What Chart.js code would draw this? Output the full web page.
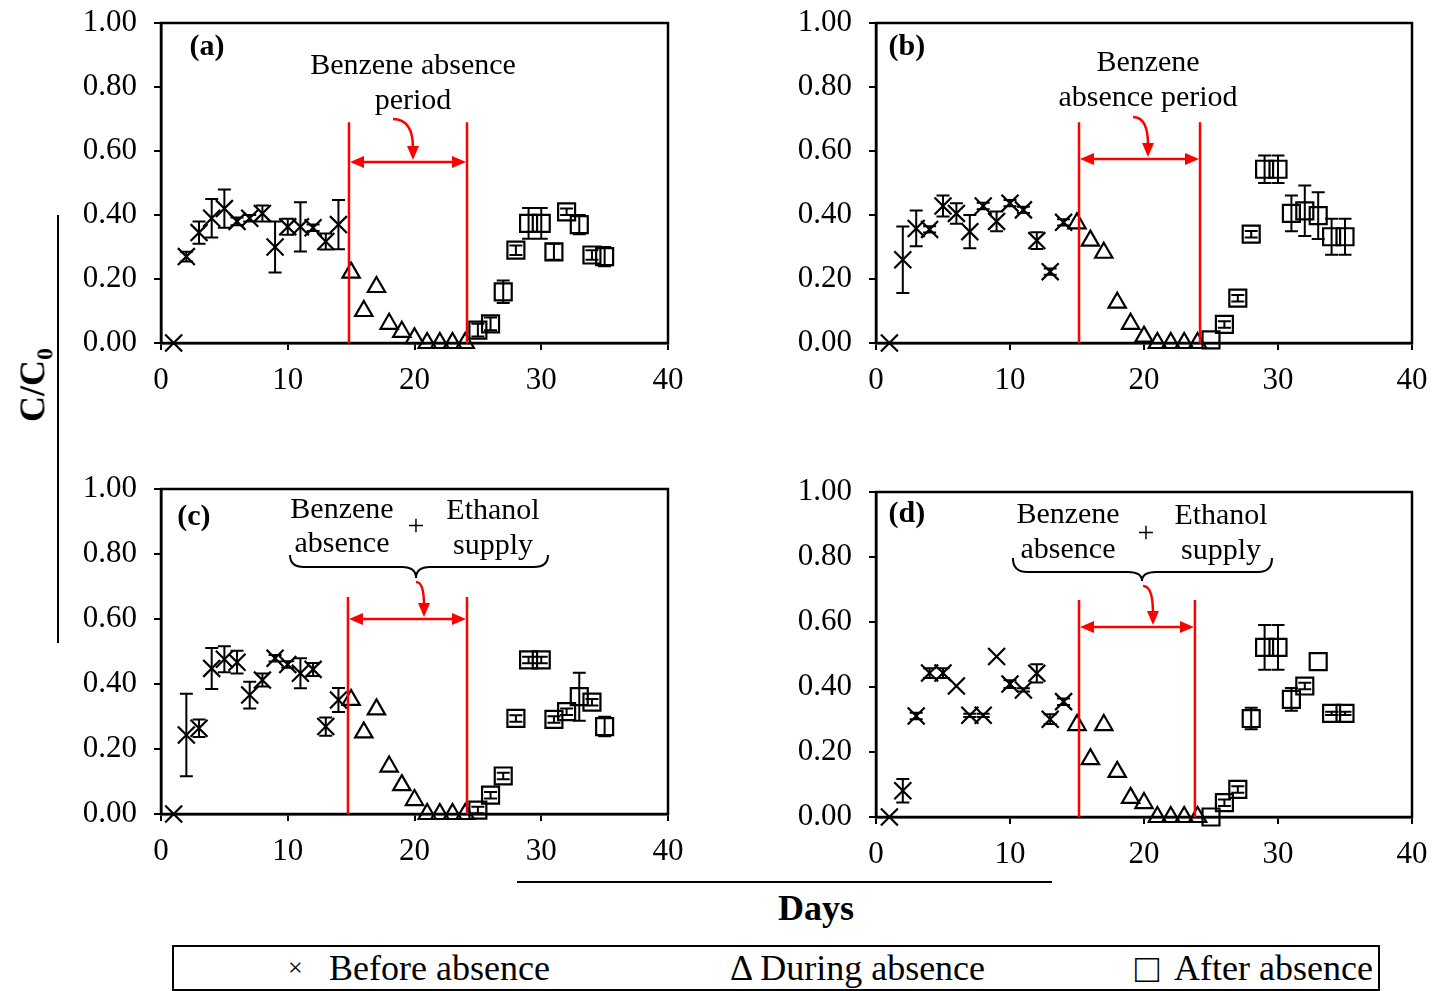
<!DOCTYPE html>
<html>
<head>
<meta charset="utf-8">
<script src="https://cdn.jsdelivr.net/npm/chart.js@4.4.0/dist/chart.umd.min.js"></script>
<style>
  body { margin: 0; background: #fff; width: 1436px; height: 991px; position: relative; overflow: hidden; font-family: "Liberation Serif", "Times New Roman", serif; color: #000; }
  .panel { position: absolute; }
  .ytitle { position: absolute; left: 35px; top: 385px; transform: translate(-50%, -50%) rotate(-90deg); font-weight: bold; font-size: 36px; white-space: nowrap; }
  .ytitle sub { font-size: 24px; }
  .yline { position: absolute; left: 57px; top: 215px; width: 2px; height: 428px; background: #000; }
  .xtitle { position: absolute; left: 816px; top: 908px; transform: translate(-50%, -50%); font-weight: bold; font-size: 36px; }
  .xline { position: absolute; left: 517px; top: 881px; width: 535px; height: 2px; background: #000; }
  .legend { position: absolute; left: 172px; top: 945px; width: 1208px; height: 46px; border: 2px solid #000; box-sizing: border-box; font-size: 36px; }
  .legend span { position: absolute; top: 50%; transform: translateY(-50%); white-space: nowrap; }
</style>
</head>
<body>
<div class="panel" style="left:0;top:0"><canvas id="chartA" width="720" height="400" style="width:720px;height:400px"></canvas></div>
<div class="panel" style="left:720px;top:0"><canvas id="chartB" width="716" height="400" style="width:716px;height:400px"></canvas></div>
<div class="panel" style="left:0;top:460px"><canvas id="chartC" width="720" height="420" style="width:720px;height:420px"></canvas></div>
<div class="panel" style="left:720px;top:460px"><canvas id="chartD" width="716" height="420" style="width:716px;height:420px"></canvas></div>

<div class="yline"></div>
<div class="ytitle">C/C<sub>0</sub></div>
<div class="xline"></div>
<div class="xtitle">Days</div>
<div class="legend">
  <span style="left:114px;font-size:26px">&times;</span>
  <span style="left:155px">Before absence</span>
  <span style="left:556px">&Delta; During absence</span>
  <span style="left:961px;font-size:40px">&#9633;</span>
  <span style="left:1000px">After absence</span>
</div>

<script>
// days for each phase
const beforeDays = [1, 2, 3, 4, 5, 6, 7, 8, 9, 10, 11, 12, 13, 14];
const duringDays = [15, 16, 17, 18, 19, 20, 21, 22, 23, 24];
const afterDays = [25, 26, 27, 28, 29, 30, 31, 32, 33, 34, 35];

// panel (a)
const aBefore = [0.00, 0.27, 0.345, 0.39, 0.42, 0.38, 0.39, 0.405, 0.30, 0.363, 0.363, 0.36, 0.317, 0.37];
const aBeforeErr = [0, 0.015, 0.035, 0.06, 0.06, 0.012, 0.01, 0.025, 0.08, 0.025, 0.077, 0.01, 0.025, 0.077];
const aDuring = [0.22, 0.10, 0.175, 0.06, 0.035, 0.015, 0, 0, 0, 0];
const aAfter = [0.04, 0.06, 0.16, 0.29, 0.374, 0.374, 0.285, 0.41, 0.37, 0.275, 0.27];
const aAfterErr = [0.02, 0.02, 0.035, 0.015, 0.048, 0.048, 0.025, 0.01, 0.03, 0.015, 0.03];

// panel (b)
const bBefore = [0.00, 0.26, 0.358, 0.355, 0.428, 0.405, 0.348, 0.428, 0.38, 0.437, 0.416, 0.32, 0.223, 0.377];
const bBeforeErr = [0, 0.104, 0.056, 0.01, 0.033, 0.032, 0.052, 0.01, 0.031, 0.01, 0.01, 0.026, 0.01, 0.01];
const bDuring = [0.374, 0.32, 0.282, 0.126, 0.06, 0.02, 0, 0, 0, 0];
const bAfter = [0.01, 0.058, 0.14, 0.34, 0.543, 0.543, 0.405, 0.413, 0.398, 0.332, 0.332];
const bAfterErr = [0, 0.01, 0.01, 0.01, 0.043, 0.043, 0.056, 0.079, 0.073, 0.056, 0.056];

// panel (c)
const cBefore = [0.00, 0.243, 0.264, 0.448, 0.476, 0.467, 0.366, 0.412, 0.479, 0.46, 0.433, 0.445, 0.269, 0.351];
const cBeforeErr = [0, 0.127, 0.027, 0.063, 0.04, 0.035, 0.041, 0.02, 0.01, 0.01, 0.046, 0.02, 0.028, 0.037];
const cDuring = [0.351, 0.251, 0.322, 0.146, 0.089, 0.043, 0, 0, 0, 0];
const cAfter = [0.012, 0.058, 0.117, 0.294, 0.474, 0.474, 0.291, 0.315, 0.361, 0.344, 0.269];
const cAfterErr = [0.01, 0.01, 0.01, 0.01, 0.01, 0.01, 0.01, 0.01, 0.074, 0.01, 0.03];

// panel (d)
const dBefore = [0.00, 0.081, 0.311, 0.443, 0.443, 0.403, 0.313, 0.313, 0.494, 0.409, 0.391, 0.442, 0.301, 0.355];
const dBeforeErr = [0, 0.036, 0.01, 0.015, 0.015, 0, 0.005, 0.005, 0, 0.012, 0.005, 0.028, 0.015, 0.01];
const dDuring = [0.283, 0.178, 0.283, 0.139, 0.059, 0.043, 0, 0, 0, 0];
const dAfter = [0.00, 0.044, 0.085, 0.303, 0.522, 0.522, 0.362, 0.403, 0.478, 0.319, 0.319];
const dAfterErr = [0, 0.01, 0.01, 0.033, 0.069, 0.069, 0.035, 0.01, 0, 0.005, 0.005];

const xTicks = [0, 10, 20, 30, 40];
const yTicks = ['0.00', '0.20', '0.40', '0.60', '0.80', '1.00'];

const FONT = '"Liberation Serif", "Times New Roman", serif';

function pts(xs, ys) {
    return xs.map((x, i) => ({ x: x, y: ys[i] }));
}

function makeDatasets(before, beforeErr, during, after, afterErr) {
    const common = { showLine: false, borderColor: '#000', backgroundColor: 'rgba(0,0,0,0)', pointBorderWidth: 2.2, clip: false };
    return [
        Object.assign({ label: 'Before absence', data: pts(beforeDays, before), errors: beforeErr, pointStyle: 'crossRot', pointRadius: 12 }, common),
        Object.assign({ label: 'During absence', data: pts(duringDays, during), errors: null, pointStyle: 'triangle', pointRadius: 10 }, common),
        Object.assign({ label: 'After absence', data: pts(afterDays, after), errors: afterErr, pointStyle: 'rect', pointRadius: 12 }, common)
    ];
}

// error bars with caps
const errorBars = {
    id: 'errorBars',
    afterDatasetsDraw(chart) {
        const ctx = chart.ctx;
        const ys = chart.scales.y;
        ctx.save();
        ctx.strokeStyle = '#000';
        ctx.lineWidth = 2;
        chart.data.datasets.forEach((ds, i) => {
            if (!ds.errors) return;
            const meta = chart.getDatasetMeta(i);
            meta.data.forEach((el, j) => {
                const e = ds.errors[j];
                if (!e) return;
                const v = ds.data[j].y;
                const t = ys.getPixelForValue(v + e), b = ys.getPixelForValue(v - e);
                ctx.beginPath();
                ctx.moveTo(el.x, t); ctx.lineTo(el.x, b);
                ctx.moveTo(el.x - 6.5, t); ctx.lineTo(el.x + 6.5, t);
                ctx.moveTo(el.x - 6.5, b); ctx.lineTo(el.x + 6.5, b);
                ctx.stroke();
            });
        });
        ctx.restore();
    }
};

// box around the plot area
const frame = {
    id: 'frame',
    beforeDatasetsDraw(chart) {
        const a = chart.chartArea, ctx = chart.ctx;
        ctx.save();
        ctx.strokeStyle = '#000';
        ctx.lineWidth = 2.5;
        ctx.strokeRect(a.left, a.top, a.right - a.left, a.bottom - a.top);
        ctx.restore();
    }
};

function arrowHead(ctx, x, y, dx, dy) {
    const len = 14, half = 6;
    const px = -dy, py = dx;
    ctx.beginPath();
    ctx.moveTo(x, y);
    ctx.lineTo(x - dx * len + px * half, y - dy * len + py * half);
    ctx.lineTo(x - dx * len - px * half, y - dy * len - py * half);
    ctx.closePath();
    ctx.fill();
}

function notesPlugin(note) {
    return {
        id: 'notes',
        afterDatasetsDraw(chart) {
            const ctx = chart.ctx, xs = chart.scales.x, ys = chart.scales.y;
            const px = d => xs.getPixelForValue(d), py = v => ys.getPixelForValue(v);
            ctx.save();
            // period lines and double arrow
            ctx.strokeStyle = '#ff0000';
            ctx.fillStyle = '#ff0000';
            ctx.lineWidth = 2.5;
            const x1 = px(note.period[0]), x2 = px(note.period[1]);
            const top = py(note.lineTop), ay = py(note.arrowY);
            ctx.beginPath();
            ctx.moveTo(x1, top); ctx.lineTo(x1, ys.bottom);
            ctx.moveTo(x2, top); ctx.lineTo(x2, ys.bottom);
            ctx.moveTo(x1 + 8, ay); ctx.lineTo(x2 - 8, ay);
            ctx.stroke();
            arrowHead(ctx, x1 + 1, ay, -1, 0);
            arrowHead(ctx, x2 - 1, ay, 1, 0);
            // curved pointer
            const sx = px(note.curve[0]), sy = py(note.curve[1]);
            const tx = px(note.tip), ty = ay - 2;
            ctx.beginPath();
            ctx.moveTo(sx, sy);
            ctx.quadraticCurveTo(tx, sy, tx, ty - 12);
            ctx.stroke();
            arrowHead(ctx, tx, ty, 0, 1);
            // brace
            ctx.strokeStyle = '#000';
            ctx.lineWidth = 2;
            if (note.brace) {
                const b = note.brace;
                const bx1 = px(b.x1), bx2 = px(b.x2), by = py(b.y), bt = py(b.top);
                const cx = px(b.tip[0]), cy = py(b.tip[1]);
                ctx.beginPath();
                ctx.moveTo(bx1, bt);
                ctx.quadraticCurveTo(bx1, by, bx1 + 14, by);
                ctx.lineTo(cx - 14, by);
                ctx.quadraticCurveTo(cx, by, cx, cy);
                ctx.quadraticCurveTo(cx, by, cx + 14, by);
                ctx.lineTo(bx2 - 14, by);
                ctx.quadraticCurveTo(bx2, by, bx2, bt);
                ctx.stroke();
            }
            // text
            ctx.fillStyle = '#000';
            ctx.textAlign = 'center';
            ctx.textBaseline = 'middle';
            ctx.font = '30px ' + FONT;
            note.texts.forEach(t => ctx.fillText(t[0], px(t[1]), py(t[2])));
            ctx.font = 'bold 30px ' + FONT;
            ctx.fillText(note.tag[0], px(note.tag[1]), py(note.tag[2]));
            ctx.restore();
        }
    };
}

function makeChart(id, datasets, box, note) {
    const tickFont = { family: FONT, size: 31 };
    new Chart(document.getElementById(id), {
        type: 'scatter',
        data: { datasets: datasets },
        options: {
            responsive: false,
            animation: false,
            layout: { padding: box.padding },
            plugins: { legend: { display: false }, tooltip: { enabled: false } },
            scales: {
                x: {
                    type: 'linear', min: 0, max: 40,
                    afterBuildTicks: s => { s.ticks = xTicks.map(v => ({ value: v })); },
                    ticks: { color: '#000', font: tickFont, padding: 12, maxRotation: 0 },
                    grid: { drawOnChartArea: false, tickLength: 7, color: '#000', lineWidth: 2 },
                    border: { color: '#000', width: 2.5 },
                    afterFit: s => { s.height = box.xh; s.paddingLeft = 0; s.paddingRight = 0; }
                },
                y: {
                    min: 0, max: 1,
                    afterBuildTicks: s => { s.ticks = yTicks.map(v => ({ value: parseFloat(v) })); },
                    ticks: { color: '#000', font: tickFont, padding: 17, callback: (v, i) => yTicks[i] },
                    grid: { drawOnChartArea: false, tickLength: 7, color: '#000', lineWidth: 2 },
                    border: { color: '#000', width: 2.5 },
                    afterFit: s => { s.width = box.yw; s.paddingTop = 0; s.paddingBottom = 0; }
                }
            }
        },
        plugins: [frame, errorBars, notesPlugin(note)]
    });
}

makeChart('chartA', makeDatasets(aBefore, aBeforeErr, aDuring, aAfter, aAfterErr),
    { padding: { left: 0, top: 23, right: 52, bottom: 0 }, xh: 57, yw: 161 },
    { period: [14.83, 24.14], lineTop: 0.69, arrowY: 0.566, curve: [18.3, 0.70], tip: 19.88,
      texts: [['Benzene absence', 19.88, 0.866], ['period', 19.88, 0.756]], tag: ['(a)', 3.63, 0.925] });

makeChart('chartB', makeDatasets(bBefore, bBeforeErr, bDuring, bAfter, bAfterErr),
    { padding: { left: 0, top: 23, right: 24, bottom: 0 }, xh: 57, yw: 156 },
    { period: [15.15, 24.18], lineTop: 0.69, arrowY: 0.575, curve: [19.18, 0.706], tip: 20.3,
      texts: [['Benzene', 20.3, 0.875], ['absence period', 20.3, 0.766]], tag: ['(b)', 2.31, 0.925] });

makeChart('chartC', makeDatasets(cBefore, cBeforeErr, cDuring, cAfter, cAfterErr),
    { padding: { left: 0, top: 29, right: 52, bottom: 0 }, xh: 66, yw: 161 },
    { period: [14.75, 24.14], lineTop: 0.668, arrowY: 0.6, curve: [20.12, 0.714], tip: 20.75,
      brace: { x1: 10.18, x2: 30.53, y: 0.76, top: 0.797, tip: [20.12, 0.726] },
      texts: [['Benzene', 14.28, 0.935], ['absence', 14.28, 0.831], ['+', 20.12, 0.883], ['Ethanol', 26.19, 0.932], ['supply', 26.19, 0.825]],
      tag: ['(c)', 2.6, 0.914] });

makeChart('chartD', makeDatasets(dBefore, dBeforeErr, dDuring, dAfter, dAfterErr),
    { padding: { left: 0, top: 32, right: 24, bottom: 0 }, xh: 63, yw: 156 },
    { period: [15.15, 23.8], lineTop: 0.668, arrowY: 0.585, curve: [19.93, 0.711], tip: 20.67,
      brace: { x1: 10.22, x2: 29.55, y: 0.754, top: 0.797, tip: [19.85, 0.726] },
      texts: [['Benzene', 14.33, 0.929], ['absence', 14.33, 0.822], ['+', 20.15, 0.871], ['Ethanol', 25.75, 0.926], ['supply', 25.75, 0.818]],
      tag: ['(d)', 2.31, 0.932] });
</script>
</body>
</html>
